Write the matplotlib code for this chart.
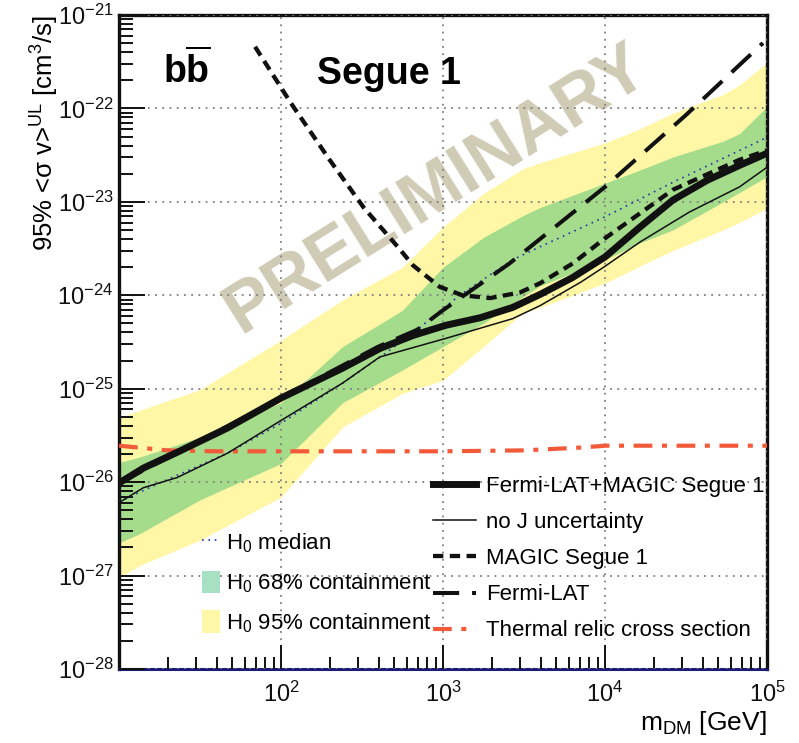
import numpy as np
import matplotlib
matplotlib.use("Agg")
import matplotlib.pyplot as plt
import matplotlib.ticker as mticker
from matplotlib.lines import Line2D
from matplotlib.patches import Patch

plt.rcParams['font.family'] = ['Liberation Sans', 'DejaVu Sans']
plt.rcParams['mathtext.fontset'] = 'custom'
plt.rcParams['mathtext.rm'] = 'Liberation Sans'
plt.rcParams['mathtext.it'] = 'Liberation Sans:italic'
plt.rcParams['mathtext.bf'] = 'Liberation Sans:bold'

# log10(m_DM / GeV) and log10(<sigma v> / cm^3 s^-1)
comb_x = [1.0, 1.15, 1.36, 1.67, 2.0, 2.38, 2.61, 2.815, 3.02, 3.23, 3.43, 3.6, 3.8, 4.0, 4.216, 4.42, 4.63, 4.83, 5.0]
comb_y = [-26.01, -25.85, -25.68, -25.42, -25.10, -24.78, -24.57, -24.43, -24.32, -24.24, -24.13, -23.99,
          -23.81, -23.59, -23.27, -22.98, -22.77, -22.61, -22.48]

noj_x = [1.0, 1.15, 1.36, 1.67, 2.0, 2.38, 2.61, 3.02, 3.43, 3.6, 3.85, 4.0, 4.216, 4.52, 4.83, 5.0]
noj_y = [-26.22, -26.06, -25.95, -25.69, -25.34, -24.94, -24.66, -24.46, -24.25, -24.11, -23.86, -23.69,
         -23.43, -23.11, -22.84, -22.63]

med_x = [1.0, 1.25, 1.67, 2.0, 2.38, 2.63, 2.84, 3.0, 3.12, 3.43, 3.6, 4.0, 4.42, 5.0]
med_y = [-26.21, -26.01, -25.69, -25.37, -24.94, -24.64, -24.37, -24.14, -23.98, -23.62, -23.48, -23.16,
         -22.79, -22.31]

magic_x = [1.84, 2.06, 2.30, 2.51, 2.72, 2.815, 2.98, 3.12, 3.29, 3.475, 3.6, 3.8, 4.0, 4.42, 4.83, 5.0]
magic_y = [-21.34, -21.94, -22.55, -23.06, -23.48, -23.68, -23.91, -24.00, -24.03, -23.97, -23.87, -23.66,
           -23.39, -22.87, -22.55, -22.45]

fermi_x = [1.0, 2.0, 2.6, 2.84, 3.0, 3.41, 4.0, 4.5, 4.975]
fermi_y = [-26.01, -25.10, -24.55, -24.37, -24.16, -23.66, -22.84, -22.07, -21.30]

relic_x = [1.0, 1.3, 1.6, 2.0, 3.0, 3.5, 3.85, 4.0, 5.0]
relic_y = [-25.61, -25.66, -25.67, -25.67, -25.67, -25.66, -25.63, -25.61, -25.61]

band_x = [1.0, 1.13, 1.5, 2.0, 2.38, 2.75, 3.0, 3.25, 3.49, 3.6, 4.0, 4.2, 4.42, 4.73, 4.83, 5.0]
y95_hi = [-25.31, -25.23, -25.01, -24.48, -24.05, -23.70, -23.27, -22.91, -22.65, -22.58, -22.37, -22.23,
          -22.05, -21.85, -21.75, -21.51]
y95_lo = [-27.02, -26.89, -26.62, -26.16, -25.41, -25.05, -24.91, -24.55, -24.19, -24.13, -23.87, -23.70,
          -23.52, -23.30, -23.22, -23.07]
y68_hi = [-25.79, -25.73, -25.52, -25.15, -24.55, -24.16, -23.70, -23.38, -23.15, -23.06, -22.80, -22.67,
          -22.52, -22.35, -22.27, -21.98]
y68_lo = [-26.65, -26.55, -26.19, -25.80, -25.15, -24.80, -24.55, -24.30, -24.02, -23.90, -23.62, -23.45,
          -23.30, -23.00, -22.90, -22.73]

y_decades = [-28, -27, -26, -25, -24, -23, -22, -21]
x_decades = [2, 3, 4, 5]

W, H = 799, 743


def p(v):
    return 10.0 ** np.array(v, dtype=float)


def fxy(x, y):
    # pixel position from the top-left corner -> figure fraction
    return x / W, 1 - y / H


fig = plt.figure(figsize=(W / 100, H / 100), dpi=100)
ax = fig.add_axes([119 / W, 1 - 669 / H, 648 / W, 654 / H])
ax.set_xscale('log')
ax.set_yscale('log')

ax.fill_between(p(band_x), p(y95_lo), p(y95_hi), color='#fff7a6', lw=0, zorder=1)
ax.fill_between(p(band_x), p(y68_lo), p(y68_hi), color='#a5dc8b', lw=0, zorder=1.1)

ax.text(*fxy(437, 190), 'PRELIMINARY', transform=fig.transFigure, fontsize=51, fontweight='bold',
        color='#d0cbb5', rotation=32, ha='center', va='center', rotation_mode='anchor', zorder=1.5)

red = '#f25a3a'
ax.plot(p(relic_x), p(relic_y), color=red, lw=3.0, dashes=(4.5, 2.3, 1.2, 2.3), zorder=3)
ax.plot(p(med_x), p(med_y), color='#2b2fa5', lw=1.2, ls=(0, (1, 2.8)), zorder=3)
ax.plot(p(fermi_x), p(fermi_y), color='#111111', lw=2.9, dashes=(6.5, 3.2), zorder=3)
ax.plot(p(magic_x), p(magic_y), color='#111111', lw=3.1, dashes=(2.4, 1.5), zorder=3)
ax.plot(p(noj_x), p(noj_y), color='#111111', lw=1.1, zorder=3.2)
ax.plot(p(comb_x), p(comb_y), color='#111111', lw=5.0, zorder=3.3)

ax.set_xlim(10, 1e5)
ax.set_ylim(1e-28, 1e-21)
ax.set_xticks(p(x_decades))
ax.set_yticks(p(y_decades))
ax.xaxis.set_minor_locator(mticker.LogLocator(subs=np.arange(2, 10)))
ax.xaxis.set_minor_formatter(mticker.NullFormatter())
ax.yaxis.set_minor_locator(mticker.LogLocator(subs=np.arange(2, 10), numticks=20))
ax.yaxis.set_minor_formatter(mticker.NullFormatter())

ax.tick_params(which='both', direction='in', top=False, right=False, colors='#111111', labelsize=17)
ax.tick_params(axis='y', which='major', length=19, width=1.4, pad=4)
ax.tick_params(axis='y', which='minor', length=10, width=1.4)
ax.tick_params(axis='x', which='major', length=17, width=1.4, pad=9)
ax.tick_params(axis='x', which='minor', length=9, width=1.4)

ax.grid(True, which='major', color='#808080', ls=(0, (1, 3)), lw=1.3)
ax.set_axisbelow(False)
for s in ['left', 'top', 'right']:
    ax.spines[s].set_linewidth(2.4)
    ax.spines[s].set_color('#111111')
ax.spines['bottom'].set_linewidth(2.2)
ax.spines['bottom'].set_color('#1c1c78')

fig.text(*fxy(187, 83), r'b$\mathbf{\overline{b}}$', fontsize=27, fontweight='bold', ha='center', va='baseline')
fig.text(*fxy(389, 84), 'Segue 1', fontsize=27, fontweight='bold', ha='center', va='baseline')

fig.text(*fxy(45, 15), r'95% <σ v>$^{\rm UL}$ [cm$^{3}$/s]', rotation=90,
         ha='center', va='top', fontsize=18.5)
fig.text(*fxy(767, 709), r'm$_{\rm DM}$ [GeV]', ha='right', va='top', fontsize=19)

h_right = [
    Line2D([], [], color='#111111', lw=5.0),
    Line2D([], [], color='#111111', lw=1.1),
    Line2D([], [], color='#111111', lw=3.1, dashes=(2.4, 1.5)),
    Line2D([], [], color='#111111', lw=2.9, dashes=(6.5, 3.2)),
    Line2D([], [], color=red, lw=3.0, dashes=(4.5, 2.3, 1.2, 2.3)),
]
l_right = ['Fermi-LAT+MAGIC Segue 1', 'no J uncertainty', 'MAGIC Segue 1', 'Fermi-LAT',
           'Thermal relic cross section']
leg1 = ax.legend(h_right, l_right, loc='upper left', bbox_to_anchor=fxy(433, 476),
                 bbox_transform=fig.transFigure, frameon=False, fontsize=16,
                 handlelength=1.95, handletextpad=0.45, labelspacing=0.68, borderpad=0, borderaxespad=0)
ax.add_artist(leg1)

h_left = [
    Line2D([], [], color='#2b2fa5', lw=1.2, ls=(0, (1, 2.8))),
    Patch(facecolor='#a8e0c4', edgecolor='none'),
    Patch(facecolor='#fff7a8', edgecolor='none'),
]
l_left = [r'H$_0$ median', r'H$_0$ 68% containment', r'H$_0$ 95% containment']
leg2 = ax.legend(h_left, l_left, loc='upper left', bbox_to_anchor=fxy(202, 531),
                 bbox_transform=fig.transFigure, frameon=False, fontsize=16,
                 handlelength=0.82, handleheight=1.2, handletextpad=0.27, labelspacing=0.68,
                 borderpad=0, borderaxespad=0)

fig.savefig('out.png', dpi=100)
